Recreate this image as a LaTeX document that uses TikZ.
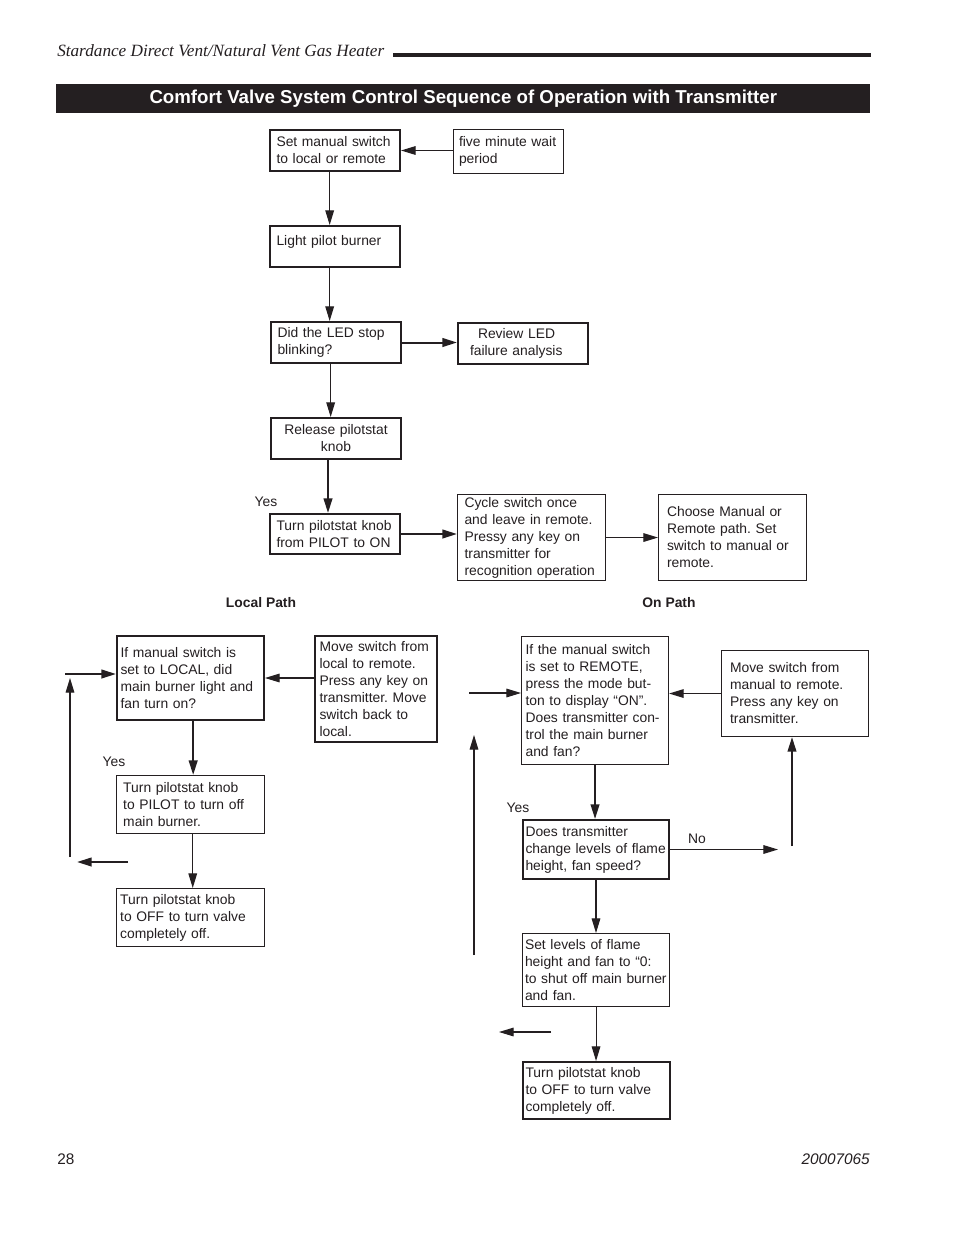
\documentclass[tikz,border=0pt]{standalone}
\usepackage{fontspec}
\setmainfont{Liberation Sans}
\newfontfamily\headfont{Liberation Serif}
\usetikzlibrary{arrows.meta}
\definecolor{InkClr}{rgb}{0.14,0.12,0.13}
\newcommand{\boxfont}{\fontsize{10.4}{12.75}\selectfont}
\frenchspacing

\tikzset{
  box/.style={draw=InkClr, line width=0.8pt, anchor=north west, align=left,
    inner sep=0pt, text=InkClr, font=\boxfont},
  boxthick/.style={box, line width=1.5pt},
  link/.style={draw=InkClr, line width=0.8pt, -{Triangle[length=11pt,width=6.5pt]}},
  linkthick/.style={link, line width=1.5pt},
  lbl/.style={inner sep=0pt, text=InkClr, font=\boxfont}
}

\begin{document}
\begin{tikzpicture}[x=0.75pt,y=-0.75pt]
\fill[white] (0,0) rectangle (954,1235);
\useasboundingbox (0,0) rectangle (954,1235);

\node[anchor=base west, inner sep=0pt, text=InkClr, font=\headfont\itshape\fontsize{12.9}{15}\selectfont] (head) at (57,56) {Stardance Direct Vent/Natural Vent Gas Heater};
\draw[InkClr, line width=3pt] (393,54.5) -- (871,54.5);
\node[anchor=north west, fill=InkClr, minimum width=610.5pt, minimum height=21.75pt, inner sep=0pt, text=white, font=\bfseries\fontsize{14}{16}\selectfont] (title) at (56,84) {Comfort Valve System Control Sequence of Operation with Transmitter};

\node[boxthick, minimum width=97.5pt, minimum height=30.75pt, text width=87.75pt] (setsw) at (269,129) {Set manual switch\\to local or remote};
\node[box, minimum width=82.5pt, minimum height=33pt, text width=74.25pt] (wait) at (453,129) {five minute wait\\period};
\node[boxthick, minimum width=97.5pt, minimum height=30.75pt, text width=87.75pt, text depth=9pt] (pilot) at (269,225) {Light pilot burner};
\node[boxthick, minimum width=97.5pt, minimum height=30.75pt, text width=87.75pt] (led) at (270,321) {Did the LED stop\\blinking?};
\node[boxthick, minimum width=97.5pt, minimum height=30.75pt, text width=79.5pt] (review) at (457,322) {\hspace*{6pt}Review LED\\failure analysis};
\node[boxthick, minimum width=97.5pt, minimum height=30.75pt, text width=87.75pt, align=center] (release) at (270,417) {Release pilotstat\\knob};
\node[boxthick, minimum width=97.5pt, minimum height=30pt, text width=87.75pt] (turnon) at (269,513) {Turn pilotstat knob\\from PILOT to ON};
\node[box, minimum width=111pt, minimum height=64.5pt, text width=100.5pt] (cycle) at (457,494) {Cycle switch once\\and leave in remote.\\Pressy any key on\\transmitter for\\recognition operation};
\node[box, minimum width=111pt, minimum height=64.5pt, text width=98.25pt] (choose) at (658,494) {Choose Manual or\\Remote path. Set\\switch to manual or\\remote.};

\node[lbl] (yestop) at (266,502) {Yes};
\node[lbl, font=\bfseries\boxfont] (localpath) at (261,603) {Local Path};
\node[lbl, font=\bfseries\boxfont] (onpath) at (669,603) {On Path};

\node[boxthick, minimum width=110.25pt, minimum height=63pt, text width=105pt] (local) at (116,635) {If manual switch is\\set to LOCAL, did\\main burner light and\\fan turn on?};
\node[boxthick, minimum width=91.5pt, minimum height=79.5pt, text width=84.75pt] (movelocal) at (314,635) {Move switch from\\local to remote.\\Press any key on\\transmitter. Move\\switch back to\\local.};
\node[box, line width=1.1pt, minimum width=111pt, minimum height=43.5pt, text width=101.25pt] (topilot) at (116,775) {Turn pilotstat knob\\to PILOT to turn off\\main burner.};
\node[box, line width=1.1pt, minimum width=111pt, minimum height=43.5pt, text width=105.75pt] (offleft) at (116,888) {Turn pilotstat knob\\to OFF to turn valve\\completely off.};
\node[lbl] (yesleft) at (114,762) {Yes};

\node[box, minimum width=110.25pt, minimum height=96pt, text width=104.25pt] (remote) at (521,636) {If the manual switch\\is set to REMOTE,\\press the mode but-\\ton to display “ON”.\\Does transmitter con-\\trol the main burner\\and fan?};
\node[box, minimum width=110.25pt, minimum height=64.5pt, text width=97.5pt] (moveremote) at (721,650) {Move switch from\\manual to remote.\\Press any key on\\transmitter.};
\node[boxthick, minimum width=109.5pt, minimum height=44.25pt, text width=105.75pt] (levels) at (522,819) {Does transmitter\\change levels of flame\\height, fan speed?};
\node[box, minimum width=110.25pt, minimum height=54.75pt, text width=106.5pt] (setzero) at (522,933) {Set levels of flame\\height and fan to “0:\\to shut off main burner\\and fan.};
\node[boxthick, minimum width=110.25pt, minimum height=42.75pt, text width=106.5pt] (offright) at (522,1061) {Turn pilotstat knob\\to OFF to turn valve\\completely off.};
\node[lbl] (yesright) at (518,808) {Yes};
\node[lbl] (no) at (697,839) {No};

\node[anchor=base west, inner sep=0pt, text=InkClr, font=\fontsize{11.5}{13}\selectfont] (pagenum) at (57,1164) {28};
\node[anchor=base east, inner sep=0pt, text=InkClr, font=\itshape\fontsize{11.5}{13}\selectfont] (docnum) at (870,1164) {20007065};

\coordinate (lin) at (65,674);
\coordinate (lbot) at (70,857);
\coordinate (ltop) at (70,678);
\coordinate (lret) at (128,862);
\coordinate (lend) at (77,862);
\coordinate (rin) at (469,693);
\coordinate (rbot) at (474,955);
\coordinate (rtop) at (474,735);
\coordinate (noend) at (778,848);
\coordinate (upbot) at (792,846);
\coordinate (rret) at (551,1032);
\coordinate (rend) at (499,1032);

\draw[link] (wait.west |- setsw.east) -- (setsw.east);
\draw[link] ([xshift=-4pt]setsw.south) -- ([xshift=-4pt]setsw.south |- pilot.north);
\draw[link] ([xshift=-4pt]pilot.south) -- ([xshift=-4pt]pilot.south |- led.north);
\draw[linkthick] (led.east) -- (review.west |- led.east);
\draw[link] ([xshift=-4pt]led.south) -- ([xshift=-4pt]led.south |- release.north);
\draw[linkthick] ([xshift=-6pt]release.south) -- ([xshift=-6pt]release.south |- turnon.north);
\draw[linkthick] (turnon.east) -- (cycle.west |- turnon.east);
\draw[link] (cycle.east) -- (choose.west);

\draw[linkthick] (lin) -- (lin -| local.west);
\draw[link] (movelocal.west |- local.east) -- (local.east);
\draw[link] (lbot) -- (ltop);
\draw[linkthick] (lret) -- (lend);
\draw[linkthick] ([xshift=2pt]local.south) -- ([xshift=2pt]local.south |- topilot.north);
\draw[link] ([xshift=1.5pt]topilot.south) -- ([xshift=1.5pt]topilot.south |- offleft.north);

\draw[link] (rin) -- (rin -| remote.west);
\draw[link] (rbot) -- (rtop);
\draw[link] (moveremote.west) -- (remote.east |- moveremote.west);
\draw[linkthick] (remote.south) -- (remote.south |- levels.north);
\draw[link] (levels.east) -- (levels.east -| noend);
\draw[linkthick] (upbot) -- (upbot |- moveremote.south);
\draw[link] (levels.south) -- (levels.south |- setzero.north);
\draw[link] (rret) -- (rend);
\draw[link] (setzero.south) -- (setzero.south |- offright.north);

\end{tikzpicture}
\end{document}
